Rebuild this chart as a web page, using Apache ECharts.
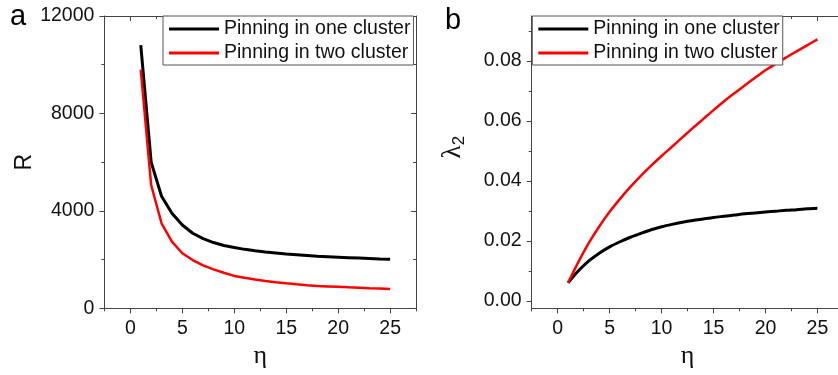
<!DOCTYPE html>
<html>
<head>
<meta charset="utf-8">
<script src="https://cdn.jsdelivr.net/npm/echarts@6/dist/echarts.min.js"></script>
<style>
  html, body { margin: 0; padding: 0; background: #fff; }
  #chart { width: 838px; height: 375px; }
</style>
</head>
<body>
<div id="chart"></div>
<script>
// eta values (x axis of both panels)
const eta = [1, 2, 3, 4, 5, 6, 7, 8, 9, 10, 11, 12, 13, 14, 15, 16, 17, 18, 19, 20, 21, 22, 23, 24, 25]

// panel a: R
const rOne = [10800, 6000, 4600, 3900, 3420, 3080, 2860, 2700, 2580, 2500, 2420, 2360, 2310, 2270, 2230, 2200, 2170, 2140, 2120, 2100, 2080, 2060, 2040, 2020, 2010]
const rTwo = [9800, 5060, 3490, 2740, 2260, 1980, 1760, 1600, 1460, 1330, 1250, 1180, 1120, 1070, 1025, 985, 950, 920, 900, 880, 860, 845, 825, 810, 790]

// panel b: lambda_2
const lamOne = [0.006, 0.01, 0.0133, 0.0159, 0.018, 0.0197, 0.0212, 0.0225, 0.0237, 0.0247, 0.0255, 0.0262, 0.0268, 0.0273, 0.0278, 0.0282, 0.0286, 0.029, 0.0293, 0.0296, 0.0299, 0.0302, 0.0304, 0.0307, 0.0309]
const lamTwo = [0.006, 0.013, 0.0193, 0.0248, 0.0297, 0.034, 0.038, 0.0417, 0.0451, 0.0483, 0.0514, 0.0545, 0.0576, 0.0606, 0.0636, 0.0665, 0.0692, 0.0718, 0.0744, 0.0769, 0.0791, 0.0812, 0.0832, 0.0852, 0.0872]

const seriesNames = ['Pinning in one cluster', 'Pinning in two cluster']

// tick positions
const xMajor = [0, 5, 10, 15, 20, 25]
const xMinor = [-2.5, 2.5, 7.5, 12.5, 17.5, 22.5, 27.5]
const rMajor = [0, 4000, 8000, 12000]
const rMinor = [2000, 6000, 10000]
const lamMajor = [0, 0.02, 0.04, 0.06, 0.08]
const lamMinor = [0.01, 0.03, 0.05, 0.07, 0.09]

const AXIS_COLOR = '#444'
const LABEL_FONT = { fontFamily: 'Liberation Sans', fontSize: 19.5, color: '#111' }

const gridA = { left: 104.4, top: 16, width: 311.7, height: 292.3, outerBoundsMode: 'none' }
const gridB = { left: 531.7, top: 16, width: 311.7, height: 292.3, outerBoundsMode: 'none' }

function pairs(xs, ys) {
  return xs.map((x, i) => [x, ys[i]])
}

// axis with a frame line, major ticks, optional labels
function mainAxis(gridIndex, position, min, max, major, opts) {
  const inside = position === 'top' || position === 'right'
  return Object.assign({
    type: 'value',
    gridIndex: gridIndex,
    position: position,
    min: min,
    max: max,
    splitLine: { show: false },
    axisLine: { show: true, onZero: false, lineStyle: { color: AXIS_COLOR, width: 1 } },
    axisTick: {
      show: true,
      inside: inside,
      length: 5,
      customValues: major,
      lineStyle: { color: AXIS_COLOR, width: 1 }
    },
    axisLabel: { show: false }
  }, opts || {})
}

// overlay axis that only draws the short minor ticks
function minorAxis(gridIndex, position, min, max, minor) {
  const inside = position === 'top' || position === 'right'
  return {
    type: 'value',
    gridIndex: gridIndex,
    position: position,
    min: min,
    max: max,
    splitLine: { show: false },
    axisLine: { show: false, onZero: false },
    axisTick: {
      show: true,
      inside: inside,
      length: 3,
      customValues: minor,
      lineStyle: { color: AXIS_COLOR, width: 1 }
    },
    axisLabel: { show: false }
  }
}

const etaName = {
  name: 'η',
  nameLocation: 'middle',
  nameGap: 32,
  nameTextStyle: { fontFamily: 'Liberation Serif', fontSize: 26, color: '#111' }
}

const xLabels = {
  axisLabel: Object.assign({ show: true, margin: 10, customValues: xMajor }, LABEL_FONT)
}

const xAxes = [
  mainAxis(0, 'bottom', -2.5, 27.5, xMajor, Object.assign({}, etaName, xLabels)),
  mainAxis(0, 'top', -2.5, 27.5, xMajor),
  mainAxis(1, 'bottom', -2.5, 27.5, xMajor, Object.assign({}, etaName, xLabels)),
  mainAxis(1, 'top', -2.5, 27.5, xMajor),
  minorAxis(2, 'bottom', -2.5, 27.5, xMinor),
  minorAxis(2, 'top', -2.5, 27.5, xMinor),
  minorAxis(3, 'bottom', -2.5, 27.5, xMinor),
  minorAxis(3, 'top', -2.5, 27.5, xMinor)
]

const yAxes = [
  mainAxis(0, 'left', 0, 12000, rMajor, {
    name: 'R',
    nameLocation: 'middle',
    nameRotate: 90,
    nameGap: 57,
    nameTextStyle: { fontFamily: 'Liberation Sans', fontSize: 23, color: '#111' },
    axisLabel: Object.assign({
      show: true,
      margin: 10,
      customValues: rMajor,
      formatter: v => String(v)
    }, LABEL_FONT)
  }),
  mainAxis(0, 'right', 0, 12000, rMajor),
  mainAxis(1, 'left', -0.0025, 0.095, lamMajor, {
    name: '{l|λ}{s|2}',
    nameLocation: 'middle',
    nameRotate: 90,
    nameGap: 64,
    nameTextStyle: {
      padding: [0, 0, 0, 30],
      rich: {
        l: { fontFamily: 'Liberation Serif', fontSize: 27, color: '#111' },
        s: { fontFamily: 'Liberation Sans', fontSize: 17, color: '#111', padding: [12, 0, 0, 0] }
      }
    },
    axisLabel: Object.assign({
      show: true,
      margin: 10,
      customValues: lamMajor,
      formatter: v => v.toFixed(2)
    }, LABEL_FONT)
  }),
  mainAxis(1, 'right', -0.0025, 0.095, lamMajor),
  minorAxis(2, 'left', 0, 12000, rMinor),
  minorAxis(2, 'right', 0, 12000, rMinor),
  minorAxis(3, 'left', -0.0025, 0.095, lamMinor),
  minorAxis(3, 'right', -0.0025, 0.095, lamMinor)
]

function lineSeries(name, data, xi, yi, color, width, smooth) {
  return {
    name: name,
    type: 'line',
    xAxisIndex: xi,
    yAxisIndex: yi,
    data: data,
    symbol: 'none',
    smooth: smooth,
    clip: true,
    lineStyle: { color: color, width: width },
    itemStyle: { color: color }
  }
}

function legendAt(left) {
  return {
    left: left,
    top: 16,
    orient: 'vertical',
    data: seriesNames,
    icon: 'rect',
    itemWidth: 50,
    itemHeight: 3,
    itemGap: 4,
    padding: [3, 3, 2, 6],
    backgroundColor: '#fff',
    borderColor: '#555',
    borderWidth: 1,
    borderRadius: 0,
    selectedMode: false,
    textStyle: { fontFamily: 'Liberation Sans', fontSize: 19.5, color: '#111', lineHeight: 20 }
  }
}

const chart = echarts.init(document.getElementById('chart'), null, { renderer: 'canvas' })

chart.setOption({
  animation: false,
  backgroundColor: '#fff',
  grid: [gridA, gridB, Object.assign({}, gridA), Object.assign({}, gridB)],
  xAxis: xAxes,
  yAxis: yAxes,
  legend: [legendAt(163), legendAt(532.3)],
  series: [
    lineSeries(seriesNames[0], pairs(eta, rOne), 0, 0, '#000', 3, false),
    lineSeries(seriesNames[1], pairs(eta, rTwo), 0, 0, '#ff0000', 2.5, false),
    lineSeries(seriesNames[0], pairs(eta, lamOne), 2, 2, '#000', 3, 0.3),
    lineSeries(seriesNames[1], pairs(eta, lamTwo), 2, 2, '#ff0000', 2.5, 0.3)
  ],
  graphic: [
    {
      type: 'text', left: 10, top: 2,
      style: { text: 'a', fontFamily: 'Liberation Sans', fontSize: 29, fill: '#000' }
    },
    {
      type: 'text', left: 445, top: 6,
      style: { text: 'b', fontFamily: 'Liberation Sans', fontSize: 29, fill: '#000' }
    }
  ]
})
</script>
</body>
</html>
